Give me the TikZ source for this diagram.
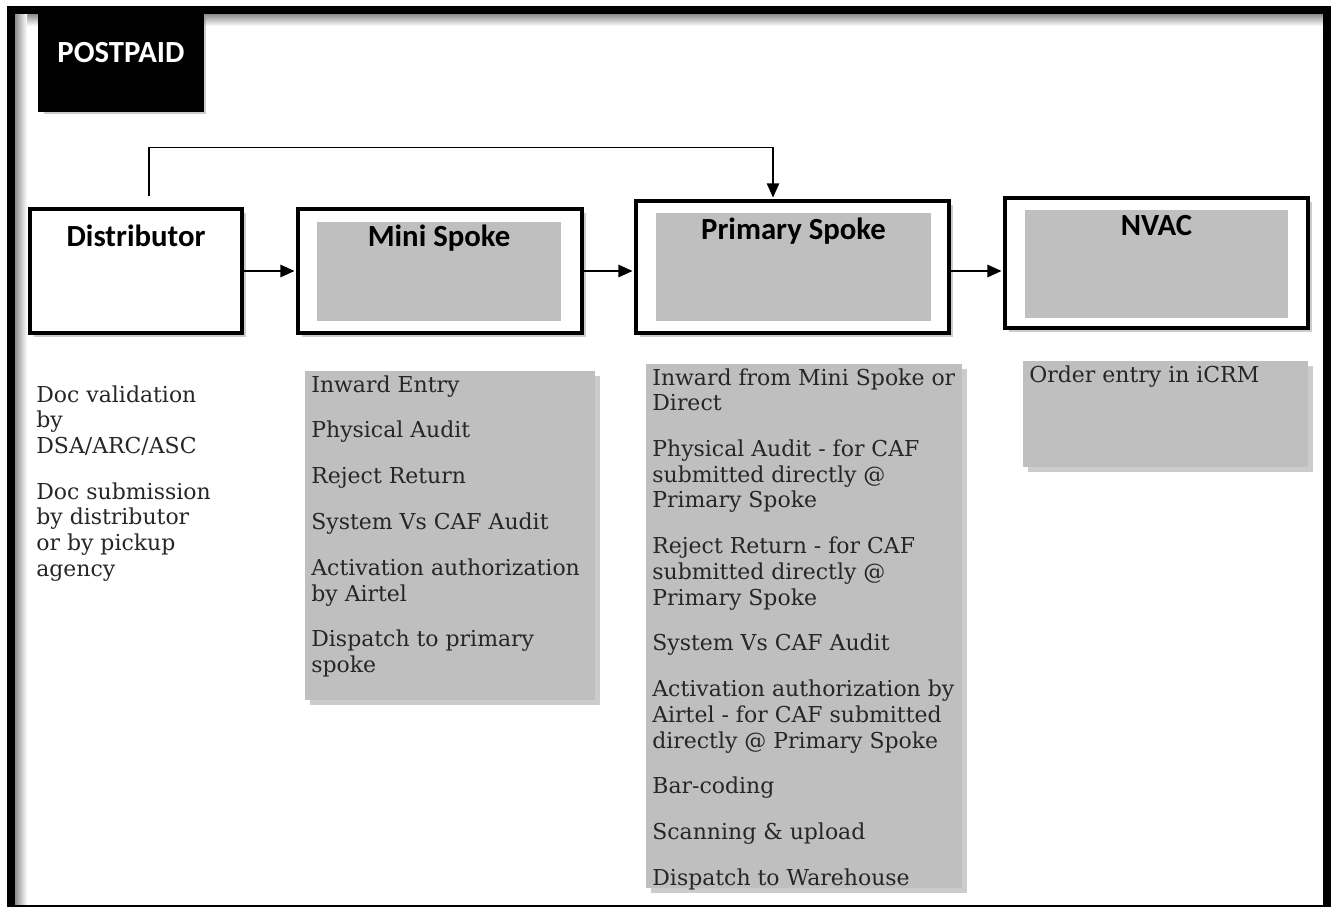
\documentclass[tikz,border=0pt]{standalone}
\usepackage{fontspec}
\setmainfont{DejaVu Serif}
\newfontfamily\headfont{Carlito}
\usetikzlibrary{shadows,arrows.meta}
\definecolor{boxgray}{RGB}{191,191,191}

\begin{document}
\begin{tikzpicture}[x=0.02cm,y=-0.02cm,shorten >=1pt,>={Triangle[length=8pt,width=7pt]}]
        \tikzstyle{shadowed}=[drop shadow={shadow xshift=2.5pt,shadow yshift=-2.5pt,opacity=0.4}]
        \tikzstyle{headtext}=[font=\headfont\fontsize{17.5}{21}\selectfont\bfseries]
        \tikzstyle{bodytext}=[font=\fontsize{12.5}{14.6}\selectfont,text=black!85]
        \tikzstyle{stage}=[draw,line width=2pt,fill=white,inner sep=0,shadowed]
        \tikzstyle{stagehead}=[fill=boxgray,inner sep=0,headtext]
        \tikzstyle{tasks}=[fill=boxgray,inner xsep=0.12cm,inner ysep=0.08cm,anchor=north west,shadowed,bodytext]
        \tikzstyle{flow}=[->,line width=1.1pt]

        \useasboundingbox (0,0) rectangle (1331,906);
        \clip (0,0) rectangle (1331,906);

        % outer frame
        \shade[top color=black!45,bottom color=white] (15,14) rectangle (1323,26);
        \shade[left color=black!45,right color=white] (15,14) rectangle (27,906);
        \draw[line width=4.5pt] (11,10) rectangle (1327,909);

        \node[stage,fill=black,text=white,headtext,minimum width=3.24cm,text height=0.96cm,text depth=0.96cm](post) at (121,62){POSTPAID};

        % stages
        \node[stage,headtext,minimum width=4.24cm,text height=0.74cm,text depth=1.74cm](dist) at (136,271){Distributor};

        \node[stage,minimum width=5.68cm,minimum height=2.48cm](mini) at (440,271){};
        \node[stagehead,minimum width=4.88cm,text height=0.48cm,text depth=1.5cm](minihead) at (439,271.5){Mini Spoke};

        \node[stage,minimum width=6.26cm,minimum height=2.64cm](prim) at (792.5,267){};
        \node[stagehead,minimum width=5.5cm,text height=0.52cm,text depth=1.64cm](primhead) at (793.5,267){Primary Spoke};

        \node[stage,minimum width=6.06cm,minimum height=2.6cm](nvac) at (1156.5,263){};
        \node[stagehead,minimum width=5.26cm,text height=0.5cm,text depth=1.66cm](nvachead) at (1156.5,264){NVAC};

        % activities
        \node[anchor=north west,inner sep=0,bodytext](distnotes) at (36,385){\parbox[t]{4.2cm}{\raggedright
            Doc validation\\ by\\ DSA/ARC/ASC\\[11.5pt]
            Doc submission\\ by distributor\\ or by pickup\\ agency}};

        \node[tasks](minitasks) at (305,371){\parbox[t][6.42cm][t]{5.56cm}{\raggedright
            Inward Entry\\[11.5pt]
            Physical Audit\\[11.5pt]
            Reject Return\\[11.5pt]
            System Vs CAF Audit\\[11.5pt]
            Activation authorization\\ by Airtel\\[11.5pt]
            Dispatch to primary\\ spoke}};

        \node[tasks](primtasks) at (646,364){\parbox[t][10.32cm][t]{6.08cm}{\raggedright
            Inward from Mini Spoke or\\ Direct\\[11.5pt]
            Physical Audit - for CAF\\ submitted directly @\\ Primary Spoke\\[11.5pt]
            Reject Return - for CAF\\ submitted directly @\\ Primary Spoke\\[11.5pt]
            System Vs CAF Audit\\[11.5pt]
            Activation authorization by\\ Airtel - for CAF submitted\\ directly @ Primary Spoke\\[11.5pt]
            Bar-coding\\[11.5pt]
            Scanning \& upload\\[11.5pt]
            Dispatch to Warehouse}};

        \node[tasks](nvactasks) at (1023,361){\parbox[t][1.96cm][t]{5.46cm}{\raggedright
            Order entry in iCRM}};

        % connectors
        \draw[flow] (dist.east) -- (mini.west);
        \draw[flow] (mini.east) -- (mini.east -| prim.west);
        \draw[flow] (prim.east |- mini.east) -- (mini.east -| nvac.west);
        \draw[->,line width=0.8pt,shorten <=0.22cm] ([xshift=0.26cm]dist.north) -- ++(0,-60) -| ([xshift=-0.39cm]prim.north);

    \end{tikzpicture}
\end{document}
